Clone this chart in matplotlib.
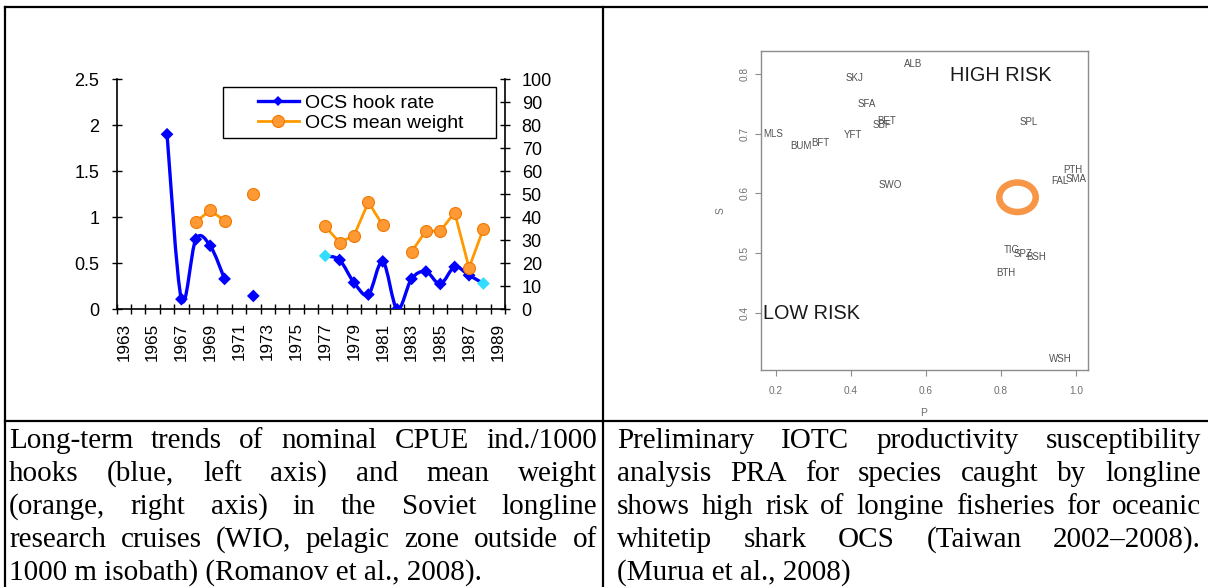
import numpy as np
import matplotlib
matplotlib.use('Agg')
import matplotlib.pyplot as plt
from matplotlib.path import Path
from matplotlib.patches import PathPatch, Ellipse, Rectangle
from matplotlib.lines import Line2D

plt.rcParams['font.family'] = ['Liberation Sans', 'DejaVu Sans']

# ---------------- data: left chart ----------------
year_labels = [str(y) for y in range(1963, 1990, 2)]
hook_years = [1966, 1967, 1968, 1969, 1970, 1972, 1977, 1978, 1979, 1980,
              1981, 1982, 1983, 1984, 1985, 1986, 1987, 1988]
hook_rate = [1.90, 0.11, 0.76, 0.69, 0.33, 0.145, 0.58, 0.535, 0.29, 0.16,
             0.52, 0.0, 0.33, 0.41, 0.275, 0.46, 0.37, 0.28]
highlight_years = [1977, 1988]
weight_years = [1968, 1969, 1970, 1972, 1977, 1978, 1979, 1980, 1981,
                1983, 1984, 1985, 1986, 1987, 1988]
mean_weight = [38, 43, 38.5, 50, 36, 29, 32, 46.5, 36.5,
               25, 34, 34, 42, 18, 35]
series_names = ['OCS hook rate', 'OCS mean weight']

# ---------------- data: right chart ----------------
species = ['ALB', 'SKJ', 'SFA', 'BET', 'SBF', 'SPL', 'MLS', 'BUM', 'BFT', 'YFT',
           'SWO', 'PTH', 'FAL', 'SMA', 'TIG', 'SPZ', 'BSH', 'BTH', 'WSH']
prod = [0.566, 0.409, 0.442, 0.496, 0.482, 0.873, 0.192, 0.267, 0.318, 0.407,
        0.504, 0.991, 0.958, 1.000, 0.828, 0.859, 0.895, 0.813, 0.959]
susc = [0.817, 0.793, 0.750, 0.722, 0.715, 0.720, 0.699, 0.679, 0.684, 0.697,
        0.614, 0.639, 0.621, 0.624, 0.505, 0.4985, 0.494, 0.467, 0.322]
ocs_p, ocs_s = 0.844, 0.5935

caption_left = ["Long-term trends of nominal CPUE ind./1000",
                "hooks (blue, left axis) and mean weight",
                "(orange, right axis) in the Soviet longline",
                "research cruises (WIO, pelagic zone outside of",
                "1000 m isobath) (Romanov et al., 2008)."]
caption_right = ["Preliminary IOTC productivity susceptibility",
                 "analysis PRA for species caught by longline",
                 "shows high risk of longine fisheries for oceanic",
                 "whitetip shark OCS (Taiwan 2002\u20132008).",
                 "(Murua et al., 2008)"]

W, H = 1208, 587
fig = plt.figure(figsize=(W / 100, H / 100), dpi=100)
fig.patch.set_facecolor('white')


def fx(x):
    return x / W


def fy(y):
    return 1 - y / H


def box(l, t, r, b):
    return [fx(l), fy(b), fx(r) - fx(l), fy(t) - fy(b)]


BLUE = '#0000FF'
CYAN = '#33DDFF'
ORANGE = '#FF9900'
ORANGE_FILL = '#FF9933'
ORANGE_EDGE = '#F07800'


def runs(xs, ys):
    out, cx, cy = [], [xs[0]], [ys[0]]
    for x, y in zip(xs[1:], ys[1:]):
        if x - cx[-1] == 1:
            cx.append(x); cy.append(y)
        else:
            out.append((cx, cy)); cx, cy = [x], [y]
    out.append((cx, cy))
    return out


def smooth_path(xs, ys):
    verts = [(xs[0], ys[0])]
    codes = [Path.MOVETO]
    n = len(xs)
    for i in range(n - 1):
        p0 = (xs[i - 1], ys[i - 1]) if i > 0 else (xs[i], ys[i])
        p1 = (xs[i], ys[i])
        p2 = (xs[i + 1], ys[i + 1])
        p3 = (xs[i + 2], ys[i + 2]) if i + 2 < n else p2
        c1 = (p1[0] + (p2[0] - p0[0]) / 6, p1[1] + (p2[1] - p0[1]) / 6)
        c2 = (p2[0] - (p3[0] - p1[0]) / 6, p2[1] - (p3[1] - p1[1]) / 6)
        verts += [c1, c2, p2]
        codes += [Path.CURVE4] * 3
    return Path(verts, codes)


# ---------------- left chart ----------------
ax = fig.add_axes(box(116.7, 79, 505, 309.3))
ax.set_xlim(1962.5, 1989.5)
ax.set_ylim(0, 2.5)
ax.patch.set_alpha(0)
for r in runs(hook_years, hook_rate):
    if len(r[0]) > 1:
        ax.add_patch(PathPatch(smooth_path(*r), fill=False, edgecolor=BLUE,
                               lw=2.4, capstyle='round', joinstyle='round', zorder=2))
mcol = [CYAN if y in highlight_years else BLUE for y in hook_years]
ax.scatter(hook_years, hook_rate, marker='D', s=42, c=mcol, linewidths=0, zorder=3)

ax2 = ax.twinx()
ax2.set_ylim(0, 100)
for rx, ry in runs(weight_years, mean_weight):
    ax2.plot(rx, ry, color=ORANGE, lw=2.0, marker='o', ms=8.6,
             markerfacecolor=ORANGE_FILL, markeredgecolor=ORANGE_EDGE,
             markeredgewidth=0.8, zorder=3)

for a in (ax, ax2):
    a.spines['top'].set_visible(False)
ax.spines['right'].set_visible(False)
ax2.spines['left'].set_visible(False)
ax2.spines['bottom'].set_visible(False)
for a, side in ((ax, 'left'), (ax, 'bottom'), (ax2, 'right')):
    a.spines[side].set_linewidth(1.2)
    a.spines[side].set_color('black')

ax.set_xticks(np.arange(1962.5, 1990, 1.0))
ax.set_xticklabels([])
ax.set_xticks([int(s) for s in year_labels], year_labels, minor=True)
ax.tick_params(axis='x', which='major', direction='inout', length=7.2, width=1)
ax.tick_params(axis='x', which='minor', length=0, labelrotation=90, pad=9.5,
               labelsize=12.3)
ax.set_yticks([0, 0.5, 1, 1.5, 2, 2.5], ['0', '0.5', '1', '1.5', '2', '2.5'])
ax.tick_params(axis='y', direction='inout', length=7.2, width=1, labelsize=13, pad=8.9)
ax2.set_yticks(range(0, 101, 10), [str(v) for v in range(0, 101, 10)])
ax2.tick_params(axis='y', direction='inout', length=7.2, width=1, labelsize=13, pad=8.4)

# legend
fig.add_artist(Rectangle((fx(223), fy(138)), fx(496) - fx(223), fy(87) - fy(138),
                         transform=fig.transFigure, facecolor='white',
                         edgecolor='black', lw=1.0, zorder=4))
h1 = Line2D([], [], color=BLUE, lw=2.4, marker='D', ms=5, markeredgewidth=0)
h2 = Line2D([], [], color=ORANGE, lw=2.0, marker='o', ms=8.6,
            markerfacecolor=ORANGE_FILL, markeredgecolor=ORANGE_EDGE, markeredgewidth=0.8)
leg = fig.legend([h1, h2], series_names, loc='center left',
                 bbox_to_anchor=(fx(258), fy(113)), bbox_transform=fig.transFigure,
                 frameon=False, fontsize=14, borderpad=0, borderaxespad=0,
                 handlelength=2.1, handletextpad=0.3, labelspacing=0.15)
leg.set_zorder(5)

# ---------------- right chart ----------------
axr = fig.add_axes(box(760.7, 51, 1087.7, 370))
axr.set_xlim(0.160, 1.031)
axr.set_ylim(0.3042, 0.8385)
for s in axr.spines.values():
    s.set_color('#8c8c8c')
    s.set_linewidth(1.0)
axr.set_xticks([0.2, 0.4, 0.6, 0.8, 1.0], ['0.2', '0.4', '0.6', '0.8', '1.0'])
axr.set_yticks([0.4, 0.5, 0.6, 0.7, 0.8], ['0.4', '0.5', '0.6', '0.7', '0.8'])
axr.tick_params(length=4, width=0.8, color='#8c8c8c', labelcolor='#707070', labelsize=7.3)
axr.tick_params(axis='x', pad=7.3)
axr.tick_params(axis='y', labelrotation=90, pad=4.3)
for lab in axr.get_yticklabels():
    lab.set_va('center')
for name, p, s in zip(species, prod, susc):
    axr.text(p, s, name, ha='center', va='center', fontsize=7, color='#505050',
             clip_on=False)
axr.text(0.799, 0.798, 'HIGH RISK', ha='center', va='center', fontsize=14.3,
         color='#1a1a1a')
axr.text(0.167, 0.399, 'LOW RISK', ha='left', va='center', fontsize=14.3,
         color='#1a1a1a')
axr.add_patch(Ellipse((ocs_p, ocs_s), 0.0972, 0.0494, fill=False,
                      edgecolor='#F79646', lw=4.7))
fig.text(fx(720.7), fy(210.7), 'S', rotation=90, ha='center', va='center',
         fontsize=7.5, color='#707070')
fig.text(fx(924), fy(412.7), 'P', ha='center', va='center', fontsize=7.5,
         color='#707070')

# ---------------- table borders ----------------
for (x0, y0, x1, y1) in [(5, 6.5, 1208, 6.5), (5, 6.5, 5, 587), (603, 6.5, 603, 587),
                         (5, 421, 1208, 421)]:
    fig.add_artist(Line2D([fx(x0), fx(x1)], [fy(y0), fy(y1)], transform=fig.transFigure,
                          color='black', lw=1.6, zorder=6))

# ---------------- captions (justified) ----------------
renderer = fig.canvas.get_renderer()
CAP_FS = 21


def put_lines(lines, x0, x1, y_first, pitch):
    for i, line in enumerate(lines):
        yb = y_first + i * pitch
        last = (i == len(lines) - 1)
        if last:
            fig.text(fx(x0), fy(yb), line, family='Liberation Serif', fontsize=CAP_FS,
                     ha='left', va='baseline')
            continue
        words = line.split(' ')
        texts = [fig.text(0, fy(yb), w, family='Liberation Serif', fontsize=CAP_FS,
                          ha='left', va='baseline') for w in words]
        widths = [t.get_window_extent(renderer).width for t in texts]
        gap = (x1 - x0 - sum(widths)) / (len(words) - 1)
        x = x0
        for t, wd in zip(texts, widths):
            t.set_x(fx(x))
            x += wd + gap


put_lines(caption_left, 9, 597, 448, 33)
put_lines(caption_right, 617, 1201, 448, 33)

fig.savefig('out.png', dpi=100)
